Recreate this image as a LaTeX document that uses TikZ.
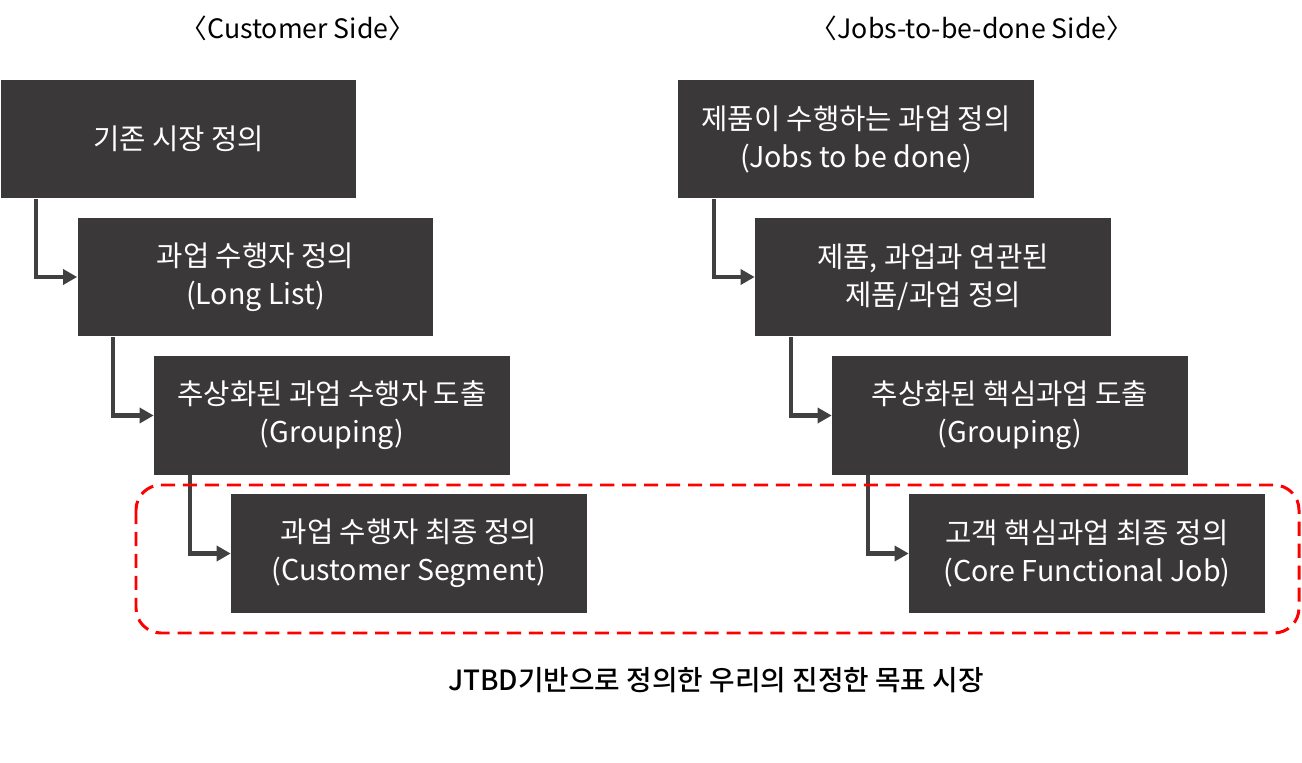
\documentclass[tikz,border=0pt]{standalone}
\usepackage{fontspec}
\setmainfont{Noto Sans CJK KR}
\newfontfamily\krmedium{Noto Sans CJK KR}[UprightFont=* Medium]
\usetikzlibrary{arrows.meta}
\definecolor{boxgray}{HTML}{3A3838}
\definecolor{linkgray}{HTML}{404040}
\tikzset{
  jobbox/.style={fill=boxgray,text=white,minimum width=7.12cm,minimum height=2.38cm,
    align=center,font=\fontsize{16.3}{21.6}\selectfont,inner sep=0pt},
  link/.style={draw=linkgray,line width=2.3pt,-{Triangle[length=8pt,width=8.5pt]}},
  header/.style={font=\fontsize{15.2}{17}\selectfont},
}
\begin{document}
\begin{tikzpicture}[x=0.02cm,y=-0.02cm]
    \useasboundingbox (0,0) rectangle (1302,763);% page size
    % headers
    \node[header] (hc) at (298,28) {〈Customer Side〉};
    \node[header] (hj) at (972,28) {〈Jobs-to-be-done Side〉};
    % customer side
    \node[jobbox] (c1) at (178.5,139) {기존 시장 정의};
    \node[jobbox] (c2) at (255.5,277) {과업 수행자 정의\\(Long List)};
    \node[jobbox] (c3) at (332,415.5) {추상화된 과업 수행자 도출\\(Grouping)};
    \node[jobbox] (c4) at (409,553.5) {과업 수행자 최종 정의\\(Customer Segment)};
    % jobs-to-be-done side
    \node[jobbox] (j1) at (856,139) {제품이 수행하는 과업 정의\\(Jobs to be done)};
    \node[jobbox] (j2) at (933,277) {제품, 과업과 연관된\\제품/과업 정의};
    \node[jobbox] (j3) at (1010,415.5) {추상화된 핵심과업 도출\\(Grouping)};
    \node[jobbox] (j4) at (1087,553.5) {고객 핵심과업 최종 정의\\(Core Functional Job)};
    % connectors
    \draw[link] ([xshift=0.72cm]c1.south west) |- (c2.west);
    \draw[link] ([xshift=0.72cm]c2.south west) |- (c3.west);
    \draw[link] ([xshift=0.72cm]c3.south west) |- (c4.west);
    \draw[link] ([xshift=0.72cm]j1.south west) |- (j2.west);
    \draw[link] ([xshift=0.72cm]j2.south west) |- (j3.west);
    \draw[link] ([xshift=0.72cm]j3.south west) |- (j4.west);
    % target market
    \draw[red,line width=1.7pt,dash pattern=on 8pt off 4.5pt,rounded corners=0.5cm]
        (136,485) rectangle (1299,633);
    \node[font=\fontsize{15.8}{18}\selectfont\krmedium] (goal) at (716,680)
        {JTBD기반으로 정의한 우리의 진정한 목표 시장};
\end{tikzpicture}
\end{document}
